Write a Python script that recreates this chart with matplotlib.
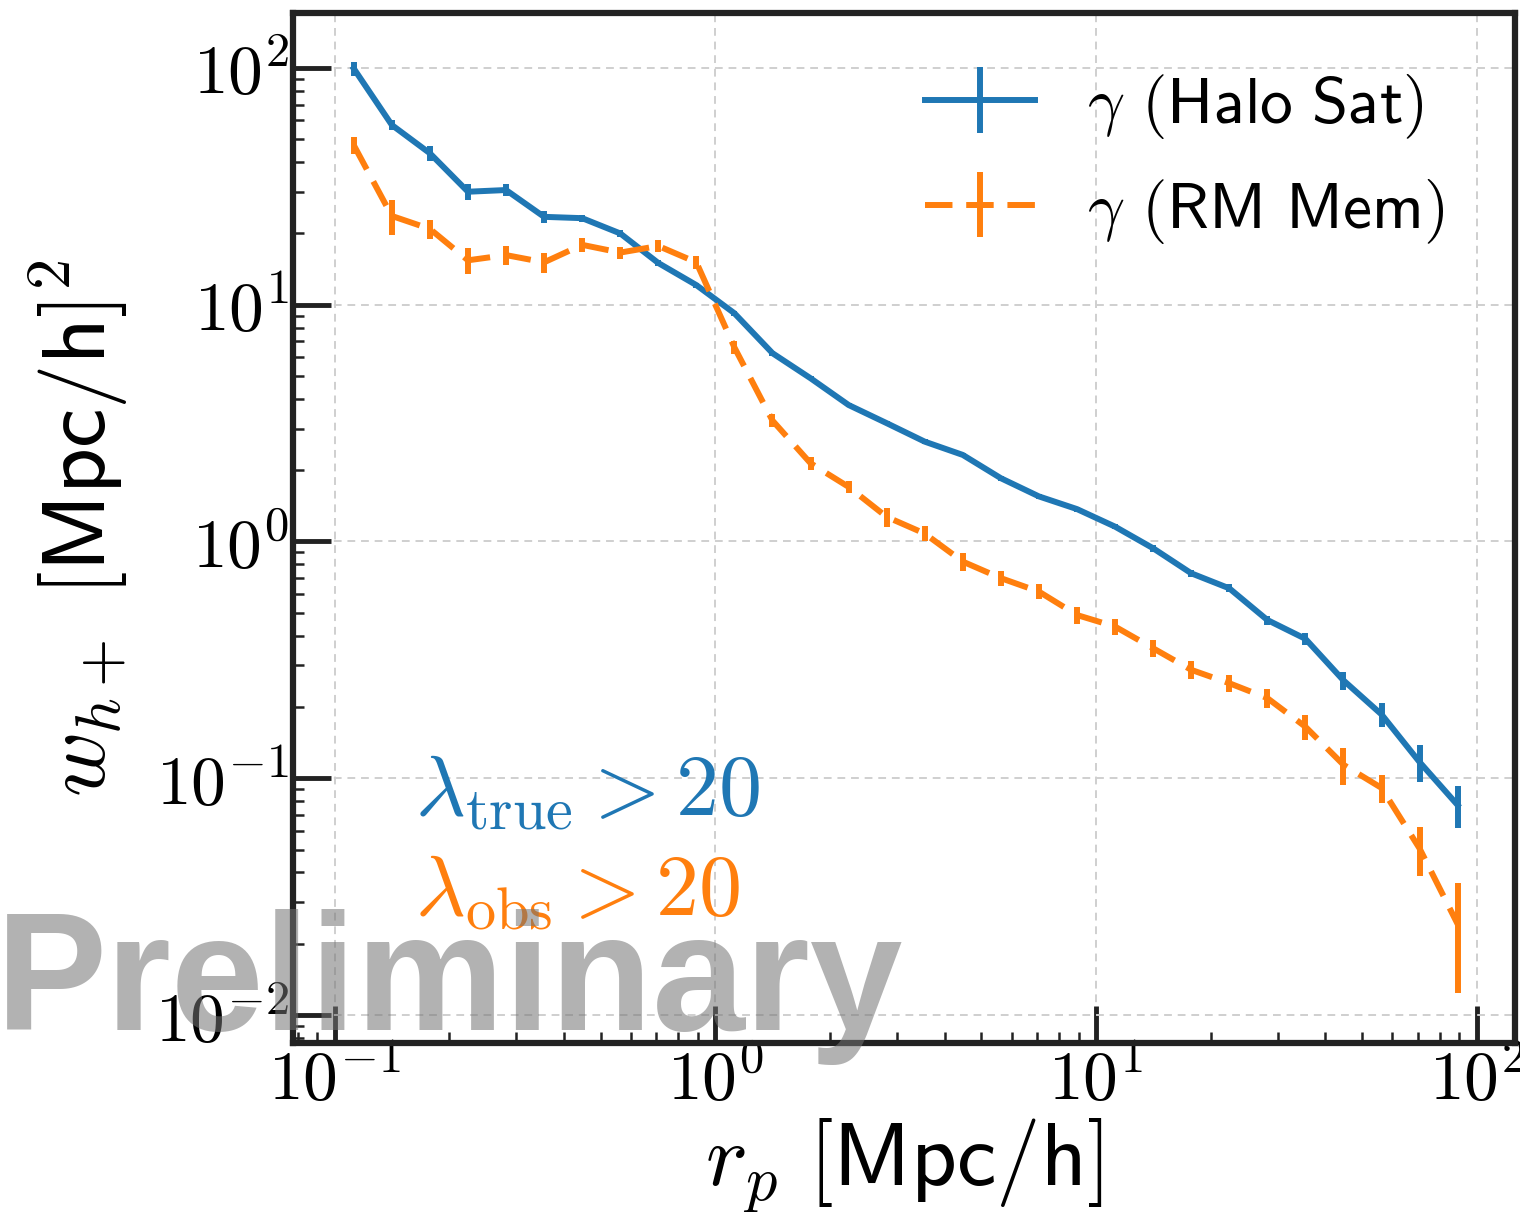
import numpy as np
import matplotlib
matplotlib.use("Agg")
import matplotlib.pyplot as plt
from matplotlib.ticker import LogLocator, FuncFormatter, NullFormatter

# ---- data ----
log_rp = [-0.95 + 0.1 * i for i in range(30)]
rp = [10 ** v for v in log_rp]

halo_sat = [99.4, 57.4, 43.6, 30.0, 30.5, 23.5, 23.2, 20.0, 15.0, 12.1,
            9.2, 6.24, 4.89, 3.77, 3.16, 2.64, 2.32, 1.85, 1.55, 1.37,
            1.155, 0.936, 0.734, 0.634, 0.466, 0.388, 0.259, 0.186, 0.117, 0.077]
halo_sat_err = [7.0, 2.8, 3.0, 2.4, 1.8, 1.4, 0.8, 0.6, 0.4, 0.3,
                0.25, 0.15, 0.1, 0.08, 0.06, 0.06, 0.05, 0.045, 0.04, 0.035,
                0.03, 0.03, 0.025, 0.025, 0.02, 0.022, 0.023, 0.021, 0.021, 0.0154]

rm_mem = [47.2, 23.7, 20.9, 15.4, 16.2, 15.1, 17.9, 16.6, 17.7, 15.1,
          6.6, 3.24, 2.14, 1.70, 1.27, 1.08, 0.822, 0.700, 0.614, 0.489,
          0.437, 0.354, 0.287, 0.252, 0.218, 0.165, 0.114, 0.091, 0.0505, 0.0242]
rm_mem_err = [3.8, 4.0, 1.9, 1.9, 1.5, 1.45, 1.2, 1.0, 1.0, 0.9,
              0.4, 0.2, 0.13, 0.1, 0.12, 0.08, 0.07, 0.05, 0.045, 0.04,
              0.035, 0.03, 0.025, 0.02, 0.02, 0.02, 0.020, 0.0124, 0.012, 0.0118]

labels = [r'$\gamma$ $\mathsf{(Halo\ Sat)}$', r'$\gamma$ $\mathsf{(RM\ Mem)}$']
colors = ['#1f77b4', '#ff7f0e']

plt.rcParams['mathtext.fontset'] = 'cm'
plt.rcParams['font.family'] = ['DejaVu Sans']

fig = plt.figure(figsize=(15.2, 12.26), dpi=100)
ax = fig.add_axes([0.1928, 0.1493, 0.8039, 0.8401])

lw = 4.3
ax.errorbar(rp, halo_sat, yerr=halo_sat_err, color=colors[0], lw=lw,
            elinewidth=lw, capsize=0, label=labels[0], zorder=3)
ax.errorbar(rp, rm_mem, yerr=rm_mem_err, color=colors[1], lw=lw,
            elinewidth=lw, capsize=0, ls=(0, (4.6, 2.3)), label=labels[1], zorder=3)

ax.set_xscale('log')
ax.set_yscale('log')
ax.set_xlim(10 ** -1.1095, 10 ** 2.1006)
ax.set_ylim(10 ** -2.118, 10 ** 2.232)

fmt = FuncFormatter(lambda v, p: r'$\mathrm{10^{%d}}$' % int(round(np.log10(v))))
for axis in (ax.xaxis, ax.yaxis):
    axis.set_major_locator(LogLocator(base=10, numticks=20))
    axis.set_minor_locator(LogLocator(base=10, subs=np.arange(2, 10), numticks=20))
    axis.set_major_formatter(fmt)
    axis.set_minor_formatter(NullFormatter())

ax.tick_params(which='major', direction='in', length=27, width=3.5,
               labelsize=50, pad=3, color='#222222')
ax.tick_params(which='minor', direction='in', length=8, width=1.8, color='#222222')
for s in ax.spines.values():
    s.set_linewidth(4.5)
    s.set_color('#222222')

ax.grid(True, which='major', ls=(0, (4, 3)), color='#cfcfcf', lw=1.4, zorder=0)

ax.set_xlabel(r'$r_p\ \mathsf{[Mpc/h]}$', fontsize=64, labelpad=2)
ax.set_ylabel(r'$w_{h+}\ \mathsf{[Mpc/h]}^2$', fontsize=64, labelpad=18)

leg = ax.legend(loc='upper right', bbox_to_anchor=(0.99, 1.0), frameon=False,
                fontsize=47, handlelength=1.68, handletextpad=0.8, labelspacing=0.55)

ax.text(0.10, 0.221, r'$\lambda_{\rm true} > 20$', color=colors[0],
        fontsize=62, transform=ax.transAxes, zorder=4)
ax.text(0.10, 0.124, r'$\lambda_{\rm obs} > 20$', color=colors[1],
        fontsize=62, transform=ax.transAxes, zorder=4)

fig.text(-0.003, 0.16, 'Preliminary', fontsize=120, fontweight='bold',
         family='Liberation Sans', color='0.45', alpha=0.55, zorder=10)

fig.savefig('out.png', dpi=100)
